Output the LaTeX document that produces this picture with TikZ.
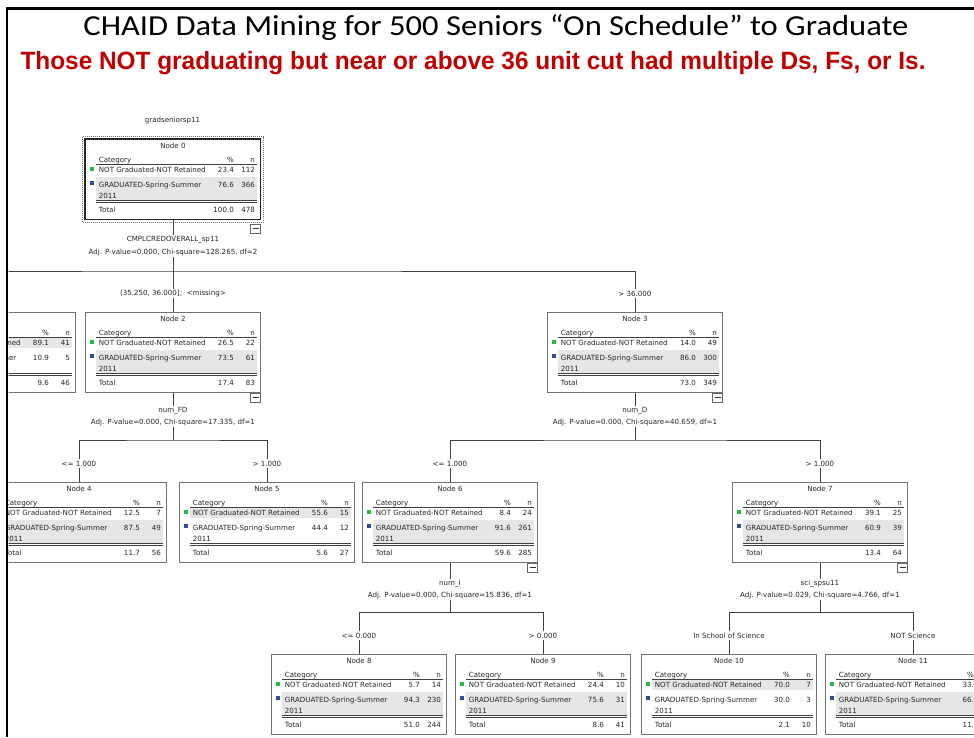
\documentclass[tikz,border=0pt]{standalone}
\usepackage{fontspec}
\setmainfont{Liberation Sans}
\newfontfamily\titlefont{Carlito}
\newfontfamily\treefamily{DejaVu Sans}
\usetikzlibrary{calc}
\definecolor{slidered}{RGB}{192,0,0}
\definecolor{catgreen}{RGB}{38,186,62}
\definecolor{catblue}{RGB}{52,72,168}
\definecolor{bandgray}{RGB}{230,230,230}
\tikzset{
    treefont/.style={font=\treefamily\fontsize{7.1}{8.5}\selectfont},
    cell/.style={treefont,inner sep=0pt,text=black!85},
    chaidbox/.style={draw=black!55,line width=0.9pt,minimum width=175pt,
        minimum height=80pt,inner sep=0pt,anchor=north west},
    rule/.style={draw=black!75,line width=0.7pt},
    edge/.style={draw=black!75,line width=0.8pt},
    edgelab/.style={treefont,text=black!85,fill=white,inner sep=1.5pt},
    splitlab/.style={font=\treefamily\fontsize{7.1}{12.6}\selectfont,text=black!85,
        align=center,fill=white,inner sep=1pt},
    minusbox/.style={draw=black!60,fill=white,line width=0.7pt,minimum width=10pt,
        minimum height=9pt,inner sep=0pt,anchor=north east,
        path picture={\draw[black!80,line width=0.8pt]
            ([xshift=2pt]path picture bounding box.west) --
            ([xshift=-2pt]path picture bounding box.east);}}
}
\begin{document}
\begin{tikzpicture}[x=1pt,y=-1pt]
    \useasboundingbox (0,0) rectangle (974,737);
    % slide heading
    \node[anchor=base,font=\titlefont\fontsize{29}{34}\selectfont] (title) at (496,35)
        {\resizebox{825pt}{\height}{CHAID Data Mining for 500 Seniors “On Schedule” to Graduate}};
    \node[anchor=base west,text=slidered,font=\bfseries\fontsize{25}{30}\selectfont] (sub) at (17,69)
        {\resizebox{905pt}{\height}{Those NOT graduating but near or above 36 unit cut had multiple Ds, Fs, or Is.}};
    \begin{scope}
    \clip (8.5,0) rectangle (974,737);
    \node[cell] (root) at (172.5,121) {gradseniorsp11};
    % the tree nodes
    \foreach \nm/\xl/\yt/\pa/\na/\pb/\nb/\pt/\nt/\hl in {
        0/85/139/23.4/112/76.6/366/100.0/478/2,
        1/-100/312/89.1/41/10.9/5/9.6/46/1,
        2/85/312/26.5/22/73.5/61/17.4/83/2,
        3/547/312/14.0/49/86.0/300/73.0/349/2,
        4/-9/482/12.5/7/87.5/49/11.7/56/2,
        5/179/482/55.6/15/44.4/12/5.6/27/1,
        6/362/482/8.4/24/91.6/261/59.6/285/2,
        7/732/482/39.1/25/60.9/39/13.4/64/2,
        8/271/654/5.7/14/94.3/230/51.0/244/2,
        9/455/654/24.4/10/75.6/31/8.6/41/2,
        10/641/654/70.0/7/30.0/3/2.1/10/1,
        11/825/654/33./{}/66./{}/11./{}/2} {
        \pgfmathsetmacro{\bt}{\hl==1 ? 26 : 37.5}
        \pgfmathsetmacro{\bb}{\hl==1 ? 36 : 61}
        \fill[bandgray] ($(\xl,\yt)+(11,\bt)$) rectangle ($(\xl,\yt)+(172,\bb)$);
        \node[chaidbox] (n\nm) at (\xl,\yt) {};
        \node[cell,anchor=mid] (n\nm-t) at ($(n\nm.north)+(0,7)$) {Node \nm};
        \node[cell,anchor=mid west] (n\nm-c) at ($(n\nm.north west)+(13.7,20.5)$) {Category};
        \node[cell,anchor=mid east] (n\nm-ph) at ($(n\nm.north west)+(149,20.5)$) {\%};
        \node[cell,anchor=mid east] (n\nm-nh) at ($(n\nm.north west)+(170,20.5)$) {n};
        \draw[rule] ($(n\nm.north west)+(11,25)$) -- ($(n\nm.north west)+(172,25)$);
        \fill[catgreen] ($(n\nm.north west)+(4.7,28)$) rectangle +(4,4);
        \node[cell,anchor=mid west] (n\nm-r1) at ($(n\nm.north west)+(13.7,31)$)
            {NOT Graduated-NOT Retained};
        \node[cell,anchor=mid east] (n\nm-p1) at ($(n\nm.north west)+(149,31)$) {\pa};
        \node[cell,anchor=mid east] (n\nm-n1) at ($(n\nm.north west)+(170,31)$) {\na};
        \fill[catblue] ($(n\nm.north west)+(4.7,42)$) rectangle +(4,4);
        \node[cell,anchor=mid west] (n\nm-r2) at ($(n\nm.north west)+(13.7,45.5)$)
            {GRADUATED-Spring-Summer};
        \node[cell,anchor=mid east] (n\nm-p2) at ($(n\nm.north west)+(149,45.5)$) {\pb};
        \node[cell,anchor=mid east] (n\nm-n2) at ($(n\nm.north west)+(170,45.5)$) {\nb};
        \node[cell,anchor=mid west] (n\nm-y) at ($(n\nm.north west)+(13.7,57)$) {2011};
        \draw[rule] ($(n\nm.north west)+(11,61.6)$) -- ($(n\nm.north west)+(172,61.6)$);
        \draw[rule] ($(n\nm.north west)+(11,63.6)$) -- ($(n\nm.north west)+(172,63.6)$);
        \node[cell,anchor=mid west] (n\nm-tt) at ($(n\nm.north west)+(13.7,70.5)$) {Total};
        \node[cell,anchor=mid east] (n\nm-pt) at ($(n\nm.north west)+(149,70.5)$) {\pt};
        \node[cell,anchor=mid east] (n\nm-nt) at ($(n\nm.north west)+(170,70.5)$) {\nt};
    }
    % selected root node
    \draw[black!85,line width=1.1pt] (n0.north west) rectangle (n0.south east);
    \draw[black!55,line width=1.3pt,dash pattern=on 1pt off 1pt]
        ($(n0.north west)+(-2.5,-2.5)$) rectangle ($(n0.south east)+(2.5,2.5)$);
    \node[minusbox] (m0) at ($(n0.south east)+(0,4)$) {};
    \foreach \nm in {2,3,6,7}
        \node[minusbox] (m\nm) at (n\nm.south east) {};
    % connectors
    \coordinate (b0) at (n0.south |- 0,271);
    \coordinate (b2) at (n2.south |- 0,440);
    \coordinate (b3) at (n3.south |- 0,440);
    \coordinate (b6) at (n6.south |- 0,612);
    \coordinate (b7) at (n7.south |- 0,612);
    \draw[edge] (n0.south) -- (n2.north);
    \draw[edge] (n1.north) |- (b0) -| (n3.north);
    \draw[edge] (n2.south) -- (b2);
    \draw[edge] (n4.north) |- (b2) -| (n5.north);
    \draw[edge] (n3.south) -- (b3);
    \draw[edge] (n6.north) |- (b3) -| (n7.north);
    \draw[edge] (n6.south) -- (b6);
    \draw[edge] (n8.north) |- (b6) -| (n9.north);
    \draw[edge] (n7.south) -- (b7);
    \draw[edge] (n10.north) |- (b7) -| (n11.north);
    % split variables
    \node[splitlab] (s0) at (n0.south |- 0,246)
        {CMPLCREDOVERALL\_sp11\\Adj. P-value=0.000, Chi-square=128.265, df=2};
    \node[splitlab] (s2) at (n2.south |- 0,416.5)
        {num\_FD\\Adj. P-value=0.000, Chi-square=17.335, df=1};
    \node[splitlab] (s3) at (n3.south |- 0,416.5)
        {num\_D\\Adj. P-value=0.000, Chi-square=40.659, df=1};
    \node[splitlab] (s6) at (n6.south |- 0,589.5)
        {num\_I\\Adj. P-value=0.000, Chi-square=15.836, df=1};
    \node[splitlab] (s7) at (n7.south |- 0,589.5)
        {sci\_spsu11\\Adj. P-value=0.029, Chi-square=4.766, df=1};
    % edge labels
    \node[edgelab] (e2) at ($(n2.north)+(0,-18.5)$) {(35.250, 36.000];\ \ <missing>};
    \node[edgelab] (e3) at ($(n3.north)+(0,-18.5)$) {> 36.000};
    \node[edgelab] (e4) at ($(n4.north)+(0,-18.5)$) {<= 1.000};
    \node[edgelab] (e5) at ($(n5.north)+(0,-18.5)$) {> 1.000};
    \node[edgelab] (e6) at ($(n6.north)+(0,-18.5)$) {<= 1.000};
    \node[edgelab] (e7) at ($(n7.north)+(0,-18.5)$) {> 1.000};
    \node[edgelab] (e8) at ($(n8.north)+(0,-18.5)$) {<= 0.000};
    \node[edgelab] (e9) at ($(n9.north)+(0,-18.5)$) {> 0.000};
    \node[edgelab] (e10) at ($(n10.north)+(0,-18.5)$) {In School of Science};
    \node[edgelab] (e11) at ($(n11.north)+(0,-18.5)$) {NOT Science};
    \end{scope}
    % slide frame
    \draw[black,line width=2.4pt] (974,8.5) -- (7.2,8.5) -- (7.2,737);
\end{tikzpicture}
\end{document}
